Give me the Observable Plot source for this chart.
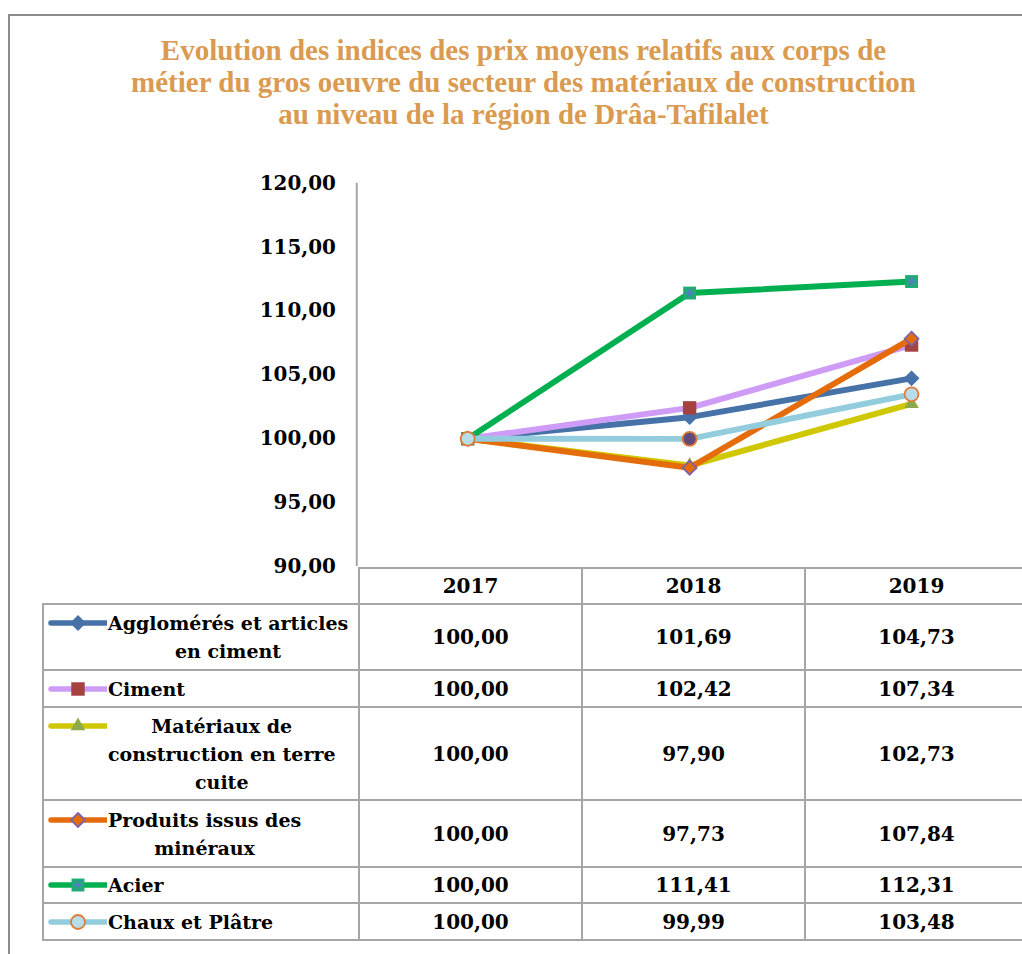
<!DOCTYPE html>
<html>
<head>
<meta charset="utf-8">
<script src="https://cdn.jsdelivr.net/npm/d3@7"></script>
<script src="https://cdn.jsdelivr.net/npm/@observablehq/plot@0.6"></script>
<style>
  html, body { margin: 0; padding: 0; background: #fff; overflow: hidden; width: 1022px; height: 954px; }
  #frame { position: absolute; left: 8px; top: 14px; width: 1100px; height: 1000px;
           border-left: 2px solid #8c8c8c; border-top: 2px solid #8c8c8c; }
  #title { position: absolute; left: 0; top: 34px; width: 1047px; text-align: center;
           font-family: "Liberation Serif", serif; font-weight: bold; font-size: 29px;
           line-height: 32px; color: #DA9A50; }
  #chart { position: absolute; left: 0; top: 150px; }
  #tbl { position: absolute; left: 42px; top: 567px; width: 985px; border-collapse: collapse; table-layout: fixed;
         font-family: "DejaVu Serif", serif; font-weight: bold; color: #000; }
  #tbl td { border: 2px solid #a6a6a6; padding: 0; text-align: center; vertical-align: middle; }
  #tbl td.blank { border-top: none; border-left: none; }
  #tbl td.num, #tbl td.yr { font-size: 20px; }
  #tbl td.lab { text-align: left; font-size: 19px; line-height: 28px; }
  .labwrap { display: flex; align-items: flex-start; padding-left: 3px; }
  .labtxt { display: inline-block; text-align: center; margin-left: 1px; white-space: nowrap; }
</style>
</head>
<body>
<div id="frame"></div>
<div id="title"></div>
<div id="chart"></div>
<table id="tbl"></table>
<script>
// ---------------- data ----------------
const titleLines = [
  "Evolution des indices des prix moyens relatifs aux corps de",
  "métier du gros oeuvre du secteur des matériaux de construction",
  "au niveau de la région de Drâa-Tafilalet"
];
const years = [2017, 2018, 2019];
const seriesNames = [
  "Agglomérés et articles en ciment",
  "Ciment",
  "Matériaux de construction en terre cuite",
  "Produits issus des minéraux",
  "Acier",
  "Chaux et Plâtre"
];
const labelLines = [
  ["Agglomérés et articles", "en ciment"],
  ["Ciment"],
  ["Matériaux de", "construction en terre", "cuite"],
  ["Produits issus des", "minéraux"],
  ["Acier"],
  ["Chaux et Plâtre"]
];
const agglomeres       = [100.00, 101.69, 104.73];
const ciment           = [100.00, 102.42, 107.34];
const terreCuite       = [100.00,  97.90, 102.73];
const produitsMineraux = [100.00,  97.73, 107.84];
const acier            = [100.00, 111.41, 112.31];
const chauxPlatre      = [100.00,  99.99, 103.48];
const yTicks = [90, 95, 100, 105, 110, 115, 120];

// ---------------- styles ----------------
const seriesValues = [agglomeres, ciment, terreCuite, produitsMineraux, acier, chauxPlatre];
const styles = [
  {line: "#4672A8", symbol: "diamond2", fill: "#4672A8", stroke: "none", r: 7.2},
  {line: "#CE9CF6", symbol: "square",   fill: "#A5423F", stroke: "none", r: 7.6},
  {line: "#CFC700", symbol: "triangle", fill: "#8EA84C", stroke: "none", r: 5.4},
  {line: "#E46C0A", symbol: "diamond2", fill: "#E46C0A", stroke: "#7E62A8", r: 6.3},
  {line: "#00B050", symbol: "square",   fill: "#1BB06C", stroke: "none", r: 7.3, asterisk: "#4F81BD"},
  {line: "#93CDDD", symbol: "circle",   fill: "#B7DEE8", stroke: "#E07B39", r: 7, fill2018: "#604A7B"}
];
const fmt = v => v.toFixed(2).replace(".", ",");

// title
document.getElementById("title").innerHTML = titleLines.join("<br>");

// ---------------- chart ----------------
const rows = seriesNames.flatMap((s, i) => years.map((yr, j) => ({series: s, idx: i, year: yr, value: seriesValues[i][j]})));

const marks = [
  Plot.ruleX([2016.5], {stroke: "#a6a6a6", strokeWidth: 2}),
  Plot.axisY({ticks: yTicks, tickFormat: fmt, tickSize: 0, tickPadding: 21, label: null,
               fontSize: 20, fontWeight: "bold", fill: "#000"})
];
seriesNames.forEach((s, i) => {
  const st = styles[i];
  const d = rows.filter(r => r.idx === i);
  marks.push(Plot.line(d, {x: "year", y: "value", stroke: st.line, strokeWidth: 6, strokeLinejoin: "round", strokeLinecap: "round"}));
  marks.push(Plot.dot(d, {x: "year", y: "value", symbol: st.symbol, r: st.r,
    fill: st.fill2018 ? (r => r.year === 2018 ? st.fill2018 : st.fill) : st.fill,
    stroke: st.stroke, strokeWidth: st.stroke === "none" ? 0 : 1.8}));
  if (st.asterisk) {
    marks.push(Plot.dot(d, {x: "year", y: "value", symbol: "asterisk", r: 5.6, rotate: 90, stroke: st.asterisk, strokeWidth: 1.6}));
  }
});

const chart = Plot.plot({
  width: 1027, height: 420,
  marginLeft: 358, marginRight: 0, marginTop: 33, marginBottom: 2,
  x: {type: "linear", domain: [2016.5, 2019.5], axis: null},
  y: {domain: [90, 120], axis: null},
  style: {fontFamily: "DejaVu Serif", fontWeight: "bold", fontSize: "20px", color: "#000", background: "transparent", overflow: "visible"},
  marks
});
document.getElementById("chart").appendChild(chart);

// ---------------- data table with legend keys ----------------
const tbl = d3.select("#tbl");
const colWidths = [316, 223, 223, 223];
const cg = tbl.append("colgroup");
colWidths.forEach(w => cg.append("col").style("width", w + "px"));
const rowHeights = [36, 66, 37, 93, 67, 36, 37];

const hdr = tbl.append("tr").style("height", rowHeights[0] + "px");
hdr.append("td").attr("class", "blank");
years.forEach(y => hdr.append("td").attr("class", "yr").text(y));

const symGen = (name, size) => {
  const map = {diamond2: d3.symbolDiamond2, square: d3.symbolSquare, triangle: d3.symbolTriangle, circle: d3.symbolCircle, asterisk: d3.symbolAsterisk};
  return d3.symbol(map[name], size)();
};

seriesNames.forEach((s, i) => {
  const st = styles[i];
  const tr = tbl.append("tr").style("height", rowHeights[i + 1] + "px");
  const lab = tr.append("td").attr("class", "lab");
  const wrap = lab.append("div").attr("class", "labwrap");
  const svg = wrap.append("svg").attr("width", 60).attr("height", 28).style("flex", "none");
  svg.append("line").attr("x1", 4).attr("x2", 59).attr("y1", 14).attr("y2", 14)
    .attr("stroke", st.line).attr("stroke-width", 5.5).attr("stroke-linecap", "round");
  svg.append("path").attr("d", symGen(st.symbol, Math.PI * st.r * st.r))
    .attr("transform", "translate(31,14)")
    .attr("fill", st.fill).attr("stroke", st.stroke)
    .attr("stroke-width", st.stroke === "none" ? 0 : 1.8);
  if (st.asterisk) {
    svg.append("path").attr("d", symGen("asterisk", Math.PI * 5.6 * 5.6))
      .attr("transform", "translate(31,14) rotate(90)")
      .attr("fill", "none").attr("stroke", st.asterisk).attr("stroke-width", 1.6);
  }
  wrap.append("span").attr("class", "labtxt").html(labelLines[i].join("<br>"));
  seriesValues[i].forEach(v => tr.append("td").attr("class", "num").text(fmt(v)));
});
</script>
</body>
</html>
